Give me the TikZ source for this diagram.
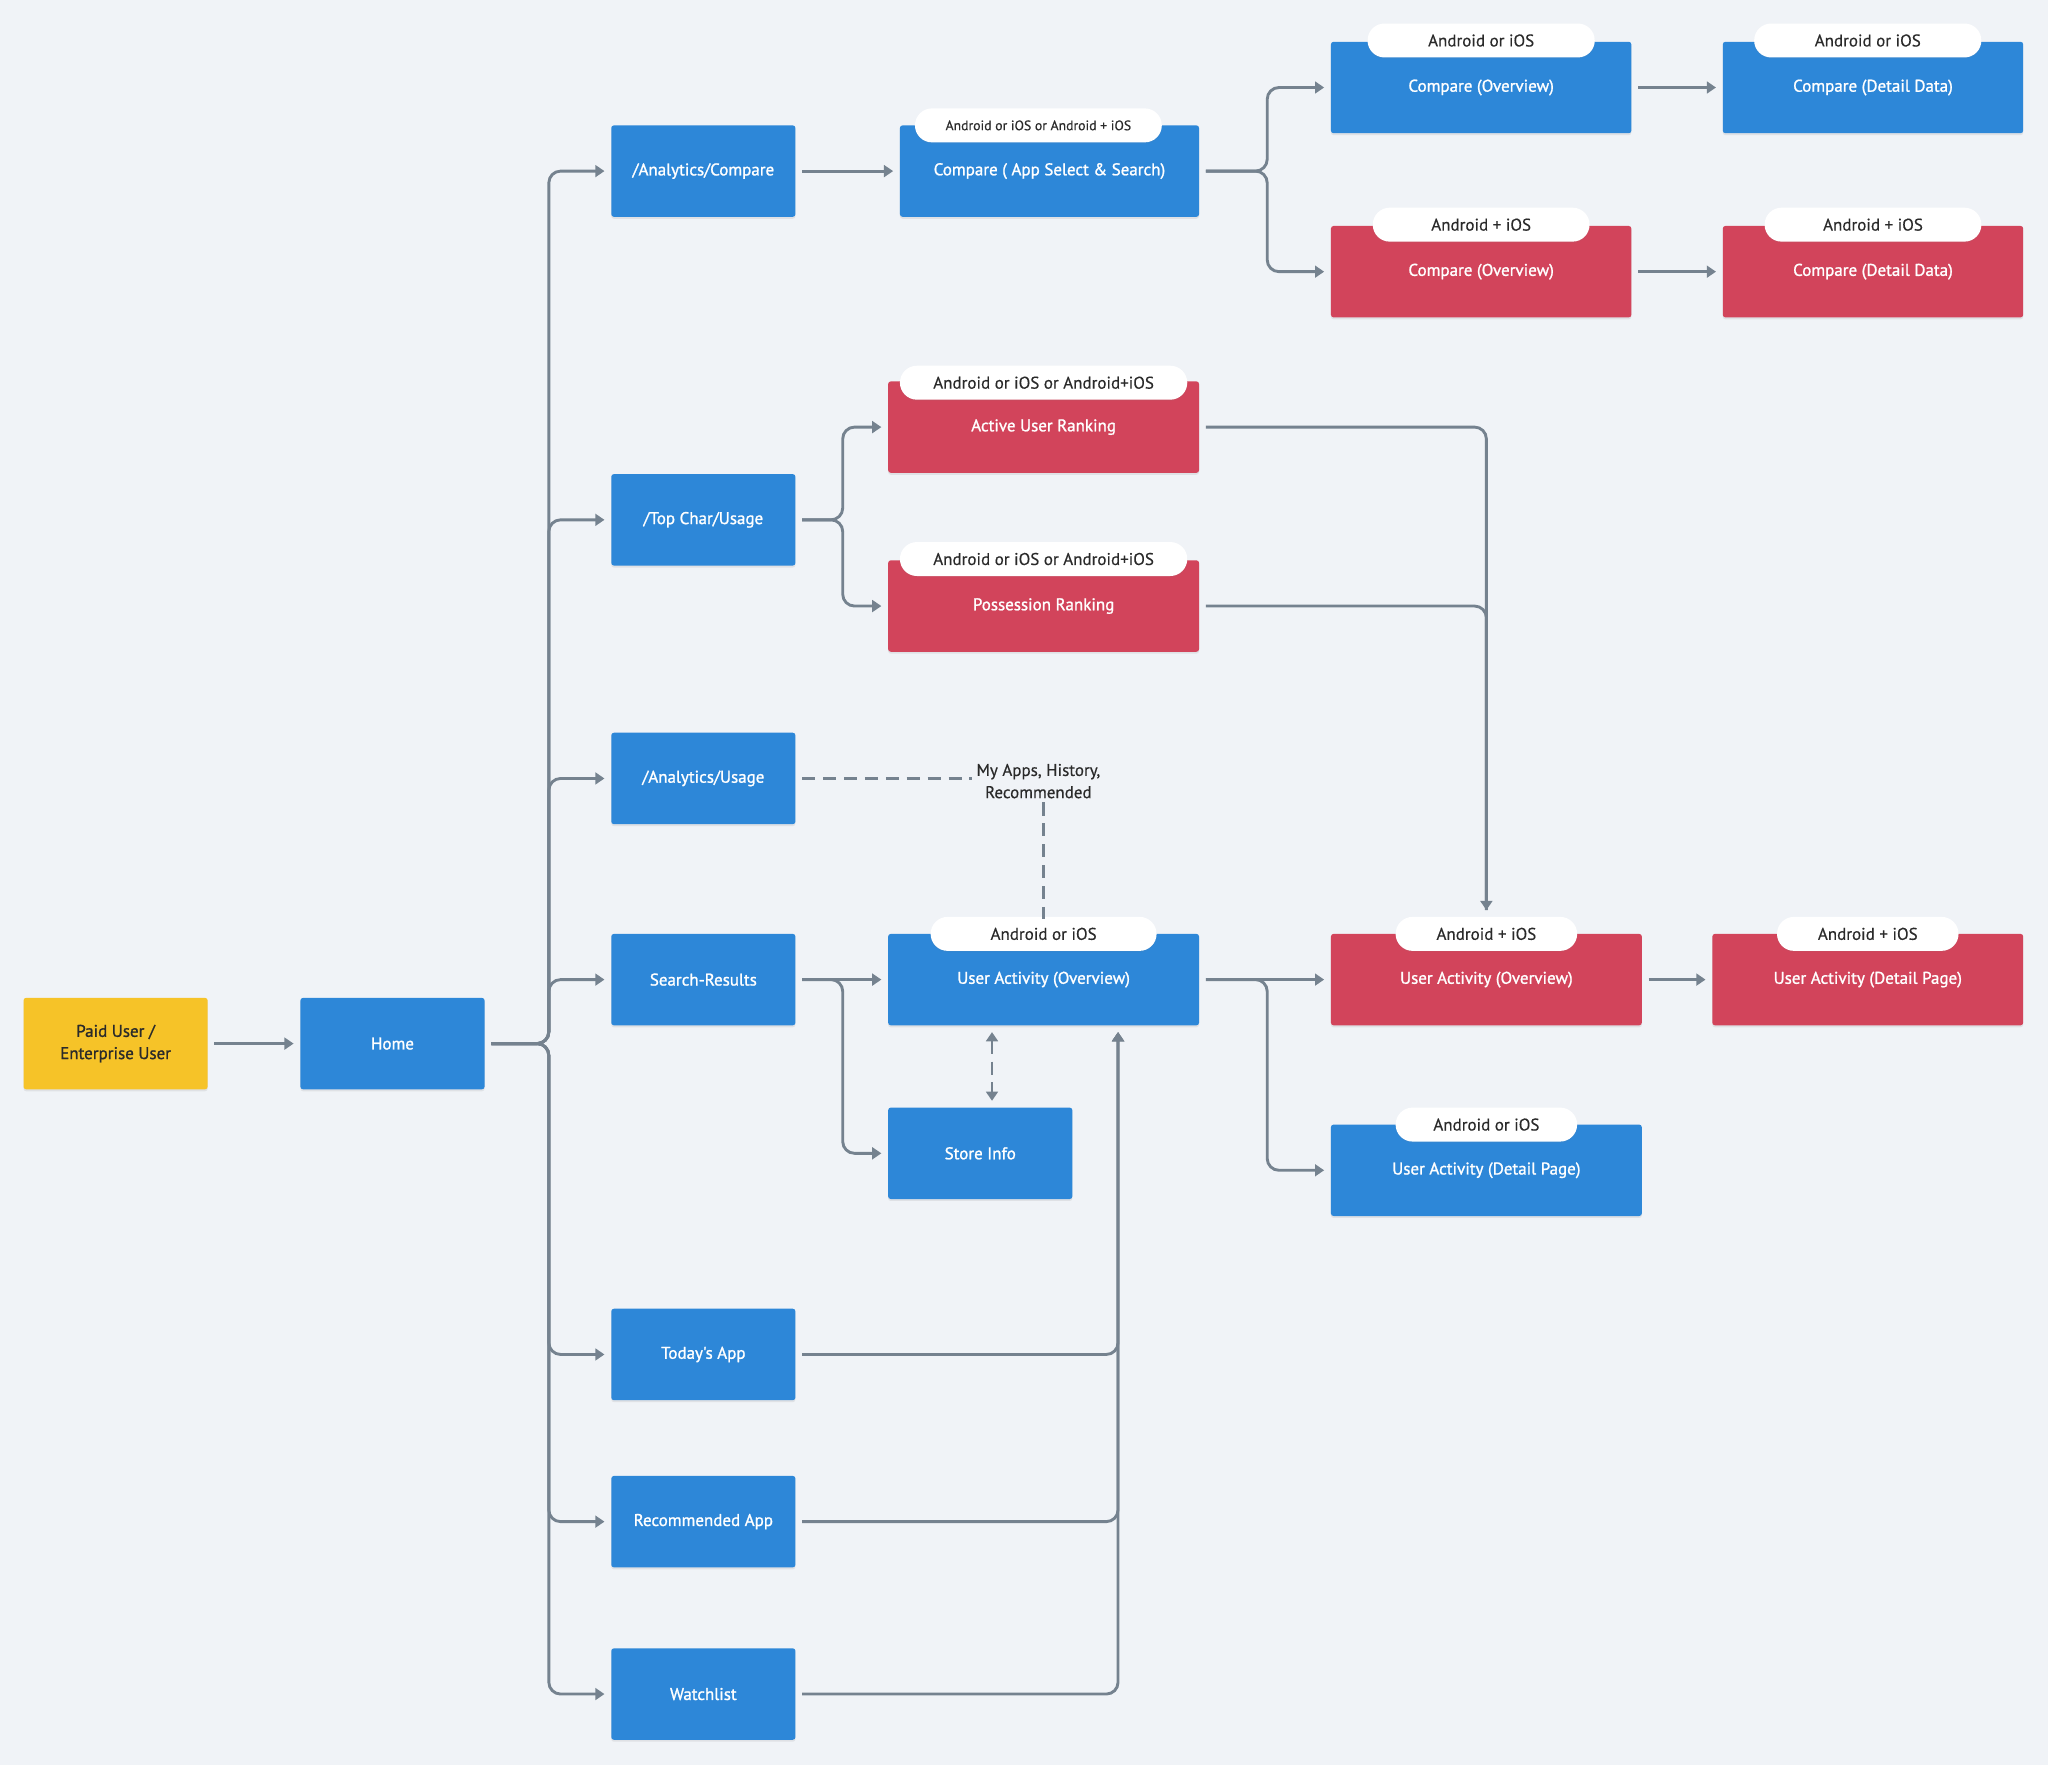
\documentclass[tikz,border=0pt]{standalone}
\usepackage{fontspec}
\setmainfont{PT Sans}
\newfontfamily\boxfont[FakeBold=1.2]{PT Sans}
\newfontfamily\tagfont[FakeBold=0.4]{PT Sans}
\usetikzlibrary{arrows.meta,shadows,calc}
\definecolor{bgc}{HTML}{F0F3F7}
\definecolor{boxblue}{HTML}{2D87D8}
\definecolor{boxred}{HTML}{D2445B}
\definecolor{boxyellow}{HTML}{F6C328}
\definecolor{lineg}{HTML}{75828F}
\definecolor{txtdark}{HTML}{2A2A2A}
\tikzset{
  box/.style={rectangle, rounded corners=2pt, minimum height=70pt, text=white,
    font=\boxfont\fontsize{13}{17}\selectfont, inner sep=0pt, align=center,
    drop shadow={shadow xshift=0pt, shadow yshift=-1.5pt, opacity=0.15}},
  bluebox/.style={box, fill=boxblue},
  redbox/.style={box, fill=boxred},
  tagbox/.style={rectangle, rounded corners=13pt, fill=white, minimum height=26pt,
    text=txtdark, font=\tagfont\fontsize{13}{15}\selectfont, inner sep=0pt,
    drop shadow={shadow xshift=0pt, shadow yshift=-1pt, opacity=0.08}},
  conn/.style={draw=lineg, line width=2.2pt, rounded corners=9pt, shorten >=5pt,
    shorten <=5pt, -{Triangle[length=7pt,width=9pt]}},
  link/.style={draw=lineg, line width=2.2pt, rounded corners=9pt, shorten >=5pt, shorten <=5pt},
  dashlink/.style={draw=lineg, line width=2.2pt, dash pattern=on 10pt off 6pt},
}
\begin{document}
\begin{tikzpicture}[x=1pt,y=-1pt]
\fill[bgc] (0,0) rectangle (1568,1351);
\useasboundingbox (0,0) rectangle (1568,1351);

% left
\node[box, fill=boxyellow, text=txtdark, minimum width=141pt] (paid) at (88.5,799) {Paid User /\\Enterprise User};
\node[bluebox, minimum width=141pt] (home) at (300.5,799) {Home};

% column 1
\node[bluebox, minimum width=141pt] (ac) at (538.5,131) {/Analytics/Compare};
\node[bluebox, minimum width=141pt] (tc) at (538.5,398) {/Top Char/Usage};
\node[bluebox, minimum width=141pt] (au) at (538.5,596) {/Analytics/Usage};
\node[bluebox, minimum width=141pt] (sr) at (538.5,750) {Search-Results};
\node[bluebox, minimum width=141pt] (ta) at (538.5,1037) {Today's App};
\node[bluebox, minimum width=141pt] (ra) at (538.5,1165) {Recommended App};
\node[bluebox, minimum width=141pt] (wl) at (538.5,1297) {Watchlist};

% compare branch
\node[bluebox, minimum width=229pt] (cas) at (803.5,131) {Compare ( App Select \& Search)};
\node[tagbox, minimum width=189pt, font=\tagfont\fontsize{10.5}{13}\selectfont] (castag) at (795,96) {Android or iOS or Android + iOS};
\node[bluebox, minimum width=230pt] (co1) at (1134,67) {Compare (Overview)};
\node[tagbox, minimum width=174pt] (co1tag) at (1134,31) {Android or iOS};
\node[bluebox, minimum width=230pt] (cd1) at (1434,67) {Compare (Detail Data)};
\node[tagbox, minimum width=174pt] (cd1tag) at (1430,31) {Android or iOS};
\node[redbox, minimum width=230pt] (co2) at (1134,208) {Compare (Overview)};
\node[tagbox, minimum width=166pt] (co2tag) at (1134,172) {Android + iOS};
\node[redbox, minimum width=230pt] (cd2) at (1434,208) {Compare (Detail Data)};
\node[tagbox, minimum width=166pt] (cd2tag) at (1434,172) {Android + iOS};

% ranking
\node[redbox, minimum width=238pt] (aur) at (799,327) {Active User Ranking};
\node[tagbox, minimum width=220pt] (aurtag) at (799,293) {Android or iOS or Android+iOS};
\node[redbox, minimum width=238pt] (pr) at (799,464) {Possession Ranking};
\node[tagbox, minimum width=220pt] (prtag) at (799,428) {Android or iOS or Android+iOS};

% user activity
\node[font=\tagfont\fontsize{13}{17}\selectfont, text=txtdark, align=center, inner sep=3pt] (mylabel) at (795,598) {My Apps, History,\\Recommended};
\node[bluebox, minimum width=238pt] (uab) at (799,750) {User Activity (Overview)};
\node[tagbox, minimum width=173pt] (uabtag) at (799,715) {Android or iOS};
\node[bluebox, minimum width=141pt] (store) at (750.5,883) {Store Info};
\node[redbox, minimum width=238pt] (uar) at (1138,750) {User Activity (Overview)};
\node[tagbox, minimum width=139pt] (uartag) at (1138,715) {Android + iOS};
\node[redbox, minimum width=238pt] (uard) at (1430,750) {User Activity (Detail Page)};
\node[tagbox, minimum width=139pt] (uardtag) at (1430,715) {Android + iOS};
\node[bluebox, minimum width=238pt] (uadb) at (1138,896) {User Activity (Detail Page)};
\node[tagbox, minimum width=139pt] (uadbtag) at (1138,861) {Android or iOS};

% connectors
\draw[conn] (paid) -- (home);
\foreach \t in {ac,tc,au,sr,ta,ra,wl}{
  \draw[conn] (home.east) -- ++(49,0) |- (\t.west);
}
\draw[conn] (ac) -- (cas);
\draw[conn] (cas.east) -- ++(52,0) |- (co1.west);
\draw[conn] (cas.east) -- ++(52,0) |- (co2.west);
\draw[conn] (co1) -- (cd1);
\draw[conn] (co2) -- (cd2);
\draw[conn] (tc.east) -- ++(36,0) |- (aur.west);
\draw[conn] (tc.east) -- ++(36,0) |- (pr.west);
\draw[link] (pr.east) -| (uartag.north);
\draw[conn] (aur.east) -| (uartag.north);
\draw[dashlink, shorten <=5pt] (au.east) -- (au.east -| mylabel.west);
\draw[dashlink] (uabtag.north |- mylabel.south) -- ([yshift=-2pt]uabtag.north);
\draw[conn] (sr) -- (uab);
\draw[conn] (sr.east) -- ++(36,0) |- (store.west);
\draw[dashlink, shorten <=5pt, shorten >=5pt, {Triangle[length=7pt,width=9pt]}-{Triangle[length=7pt,width=9pt]}] ([xshift=9pt]uab.south -| store.north) -- ([xshift=9pt]store.north);
\draw[conn] (uab) -- (uar);
\draw[conn] (uab.east) -- ++(52,0) |- (uadb.west);
\draw[conn] (uar) -- (uard);
\draw[conn] (ta.east) -| ([xshift=57pt]uab.south);
\draw[conn] (ra.east) -| ([xshift=57pt]uab.south);
\draw[conn] (wl.east) -| ([xshift=57pt]uab.south);
\end{tikzpicture}
\end{document}
